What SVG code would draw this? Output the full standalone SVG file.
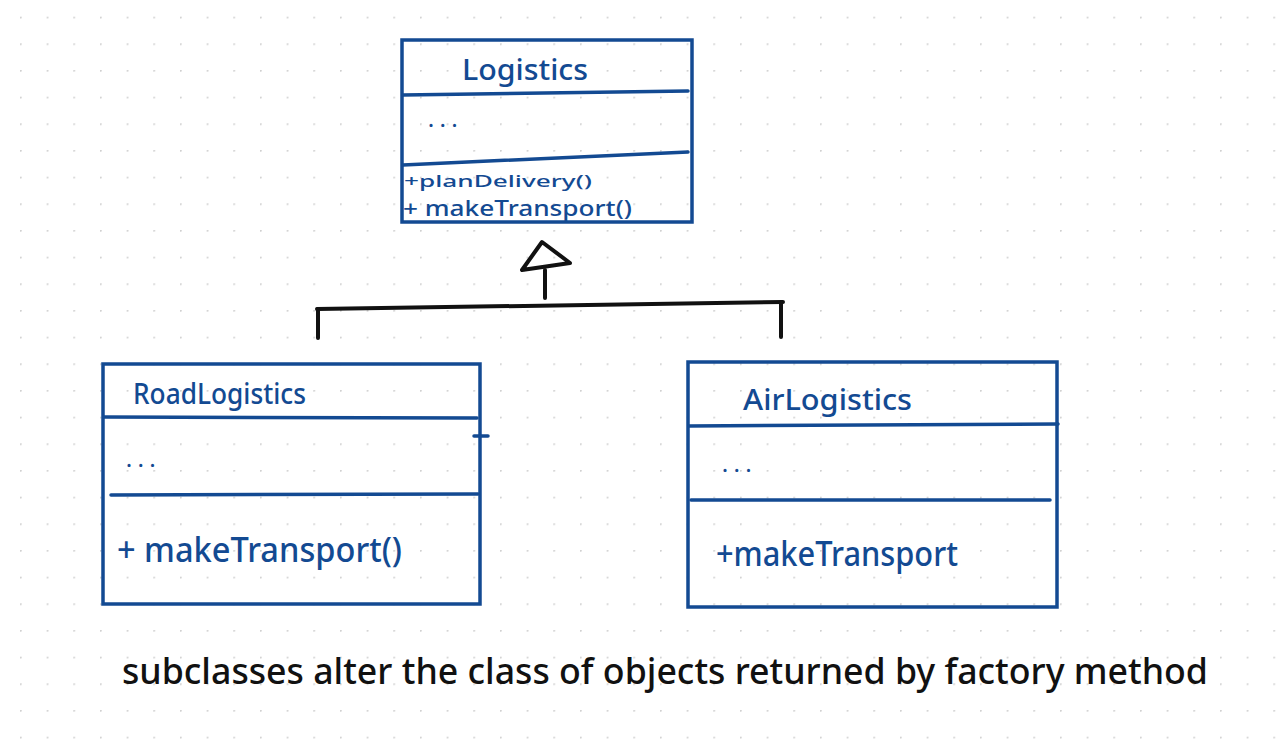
<svg xmlns="http://www.w3.org/2000/svg" width="1280" height="749" viewBox="0 0 1280 749">
<defs>
<pattern id="dots" x="20" y="16.7" width="26.667" height="26.667" patternUnits="userSpaceOnUse">
<circle cx="0.8" cy="0.8" r="1" fill="#cfcfcf"/>
</pattern>
<style>
.box{fill:none;stroke:#134a92;stroke-width:3.5;stroke-linecap:round}
.sep{stroke:#134a92;stroke-width:3.5;stroke-linecap:round;fill:none}
.t{font-family:"Noto Sans","Liberation Sans",sans-serif;fill:#134a92;font-weight:500}
.conn{stroke:#111;stroke-width:4;fill:none;stroke-linecap:round;stroke-linejoin:round}
.note{font-family:"Noto Sans","Liberation Sans",sans-serif;fill:#111;font-weight:500}
</style>
</defs>
<rect width="1280" height="749" fill="#ffffff"/>
<rect x="0" y="0" width="1280" height="749" fill="url(#dots)"/>

<g id="logistics">
<rect class="box" x="402" y="40" width="290" height="182"/>
<path class="sep" d="M403 95 L688 91"/>
<path class="sep" d="M403 165 L688 152"/>
<text class="t" x="462" y="80" font-size="28" textLength="126" lengthAdjust="spacingAndGlyphs">Logistics</text>
<text class="t" x="428" y="127" font-size="22">. . .</text>
<text class="t" x="404" y="187" font-size="17" textLength="188" lengthAdjust="spacingAndGlyphs">+planDelivery()</text>
<text class="t" x="403" y="216" font-size="21" textLength="229" lengthAdjust="spacingAndGlyphs">+ makeTransport()</text>
</g>

<g id="road-logistics">
<rect class="box" x="103" y="364" width="377" height="240"/>
<path class="sep" d="M104 417 L477 418"/>
<path class="sep" d="M111 495 L478 494"/>
<path class="sep" d="M474 436 L488 436"/>
<text class="t" x="133" y="404" font-size="29" textLength="173" lengthAdjust="spacingAndGlyphs">RoadLogistics</text>
<text class="t" x="126" y="467" font-size="22">. . .</text>
<text class="t" x="117" y="562" font-size="34" textLength="285" lengthAdjust="spacingAndGlyphs">+ makeTransport()</text>
</g>

<g id="air-logistics">
<rect class="box" x="688" y="362" width="369" height="245"/>
<path class="sep" d="M689 426 L1058 424"/>
<path class="sep" d="M691 500 L1050 500"/>
<text class="t" x="743" y="410" font-size="29" textLength="169" lengthAdjust="spacingAndGlyphs">AirLogistics</text>
<text class="t" x="722" y="472" font-size="22">. . .</text>
<text class="t" x="716" y="566" font-size="34" textLength="242" lengthAdjust="spacingAndGlyphs">+makeTransport</text>
</g>

<g id="connectors">
<path class="conn" d="M542 242 L522 270 L570 263 Z"/>
<path class="conn" d="M545 270 L545 298"/>
<path class="conn" d="M317 309 L783 302"/>
<path class="conn" d="M318 309 L318 338"/>
<path class="conn" d="M781 303 L781 337"/>
</g>

<g id="note">
<text class="note" x="122" y="684" font-size="36" textLength="1086" lengthAdjust="spacingAndGlyphs">subclasses alter the class of objects returned by factory method</text>
</g>
</svg>
